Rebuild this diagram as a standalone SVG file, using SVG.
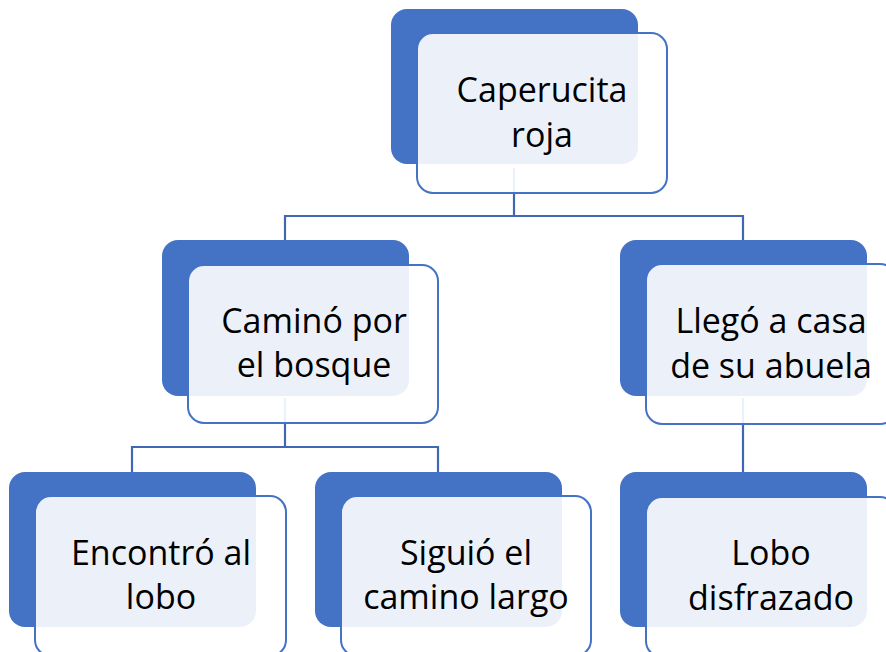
<svg xmlns="http://www.w3.org/2000/svg" width="886" height="652" viewBox="0 0 886 652">
<style>
.back{fill:#4472C4;}
.front{fill:#FFFFFF;fill-opacity:0.9;stroke:#4472C4;stroke-width:2;}
.conn{fill:none;stroke:#3F67B2;stroke-width:2.2;}
.t{font-family:"Open Sans","Liberation Sans",sans-serif;font-size:34px;fill:#000;text-anchor:middle;}
</style>
<rect width="886" height="652" fill="#FFFFFF"/>
<g id="n1-back"><rect class="back" x="391" y="9" width="247" height="155" rx="16"/></g>
<g id="n2-back"><rect class="back" x="162" y="240" width="247" height="156" rx="16"/></g>
<g id="n3-back"><rect class="back" x="620" y="240" width="247" height="156" rx="16"/></g>
<g id="n4-back"><rect class="back" x="9" y="472" width="247" height="155" rx="16"/></g>
<g id="n5-back"><rect class="back" x="315" y="472" width="247" height="155" rx="16"/></g>
<g id="n6-back"><rect class="back" x="620" y="472" width="247" height="155" rx="16"/></g>
<g id="connectors">
<path class="conn" d="M514 168 V216 M285 216 H743 M285 215 V240 M743 215 V240"/>
<path class="conn" d="M285 398 V447 M132 447 H438 M132 446 V472 M438 446 V472"/>
<path class="conn" d="M743 398 V472"/>
</g>
<g id="n1">
<rect class="front" x="417" y="33" width="250" height="160" rx="16"/>
<text class="t" x="542" y="102">Caperucita</text>
<text class="t" x="542" y="147">roja</text>
</g>
<g id="n2">
<rect class="front" x="188" y="265" width="250" height="158" rx="16"/>
<text class="t" x="314" y="333">Caminó por</text>
<text class="t" x="314" y="377">el bosque</text>
</g>
<g id="n3">
<rect class="front" x="646" y="264" width="250" height="160" rx="16"/>
<text class="t" x="771" y="333">Llegó a casa</text>
<text class="t" x="771" y="378">de su abuela</text>
</g>
<g id="n4">
<rect class="front" x="35" y="496" width="251" height="160" rx="16"/>
<text class="t" x="161" y="565">Encontró al</text>
<text class="t" x="161" y="609">lobo</text>
</g>
<g id="n5">
<rect class="front" x="341" y="496" width="250" height="160" rx="16"/>
<text class="t" x="466" y="565">Siguió el</text>
<text class="t" x="466" y="609">camino largo</text>
</g>
<g id="n6">
<rect class="front" x="646" y="497" width="250" height="160" rx="16"/>
<text class="t" x="771" y="565">Lobo</text>
<text class="t" x="771" y="610">disfrazado</text>
</g>
</svg>
